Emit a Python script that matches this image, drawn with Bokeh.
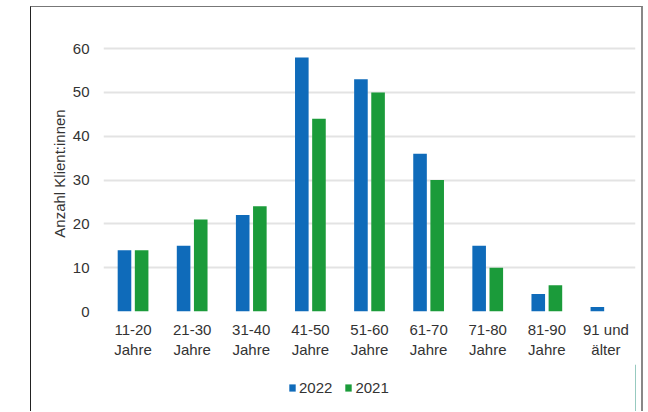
from bokeh.plotting import figure
from bokeh.layouts import column
from bokeh.models import ColumnDataSource, FactorRange, Range1d, Legend, LegendItem
from bokeh.transform import dodge
from bokeh.embed import file_html
from bokeh.resources import INLINE

categories = ["11-20\nJahre", "21-30\nJahre", "31-40\nJahre", "41-50\nJahre", "51-60\nJahre",
              "61-70\nJahre", "71-80\nJahre", "81-90\nJahre", "91 und\nälter"]
values_2022 = [14, 15, 22, 58, 53, 36, 15, 4, 1]
values_2021 = [14, 21, 24, 44, 50, 30, 10, 6, 0]
series_names = ["2022", "2021"]
yticks = [0, 10, 20, 30, 40, 50, 60]

BLUE = "#0F6BBA"
GREEN = "#1B9B3A"
FONT = "Liberation Sans"
FS = "15px"
TXT = "#333333"

source = ColumnDataSource(data=dict(cat=categories, v2022=values_2022, v2021=values_2021))

p = figure(x_range=FactorRange(*categories, range_padding=0.0), y_range=Range1d(0, 63),
           width=613, height=358, output_backend="svg", toolbar_location=None,
           min_border_left=72, min_border_right=9, min_border_top=28, min_border_bottom=54)
p.outline_line_color = None
p.background_fill_color = "white"
p.border_fill_color = "white"
p.styles = {"border-left": "1px solid #222", "border-top": "1px solid #777",
            "border-right": "2px solid #888"}

p.vbar(x=dodge("cat", -0.145, range=p.x_range), top="v2022", width=0.23, source=source,
       fill_color=BLUE, line_color=None)
p.vbar(x=dodge("cat", 0.145, range=p.x_range), top="v2021", width=0.23, source=source,
       fill_color=GREEN, line_color=None)

p.xgrid.grid_line_color = None
p.ygrid.grid_line_color = "#e3e3e3"
p.ygrid.grid_line_width = 2
p.yaxis.ticker = yticks

for ax in (p.xaxis[0], p.yaxis[0]):
    ax.axis_line_color = None
    ax.major_tick_line_color = None
    ax.minor_tick_line_color = None
    ax.major_tick_out = 0
    ax.major_tick_in = 0
    ax.major_label_text_font = FONT
    ax.major_label_text_font_size = FS
    ax.major_label_text_color = TXT

p.yaxis.major_label_standoff = 14
p.xaxis.major_label_standoff = 9
p.xaxis.major_label_text_line_height = 1.2
p.yaxis.axis_label = "Anzahl Klient:innen"
p.yaxis.axis_label_text_font = FONT
p.yaxis.axis_label_text_font_size = FS
p.yaxis.axis_label_text_font_style = "normal"
p.yaxis.axis_label_text_color = TXT
p.yaxis.axis_label_standoff = 2

# legend figure
pl = figure(width=613, height=47, output_backend="svg", toolbar_location=None,
            x_range=Range1d(0, 1), y_range=Range1d(0, 1),
            x_axis_location=None, y_axis_location=None,
            min_border_left=72, min_border_right=9, min_border_top=0, min_border_bottom=0)
pl.outline_line_color = None
pl.xgrid.grid_line_color = None
pl.ygrid.grid_line_color = None
pl.border_fill_color = "white"
pl.styles = {"border-left": "1px solid #222", "border-right": "2px solid #888"}
lr1 = pl.vbar(x=[5], top=[5], width=0.1, fill_color=BLUE, line_color=None)
lr2 = pl.vbar(x=[5], top=[5], width=0.1, fill_color=GREEN, line_color=None)

legend = Legend(items=[LegendItem(label=series_names[0], renderers=[lr1]),
                       LegendItem(label=series_names[1], renderers=[lr2])],
                orientation="horizontal", location=(185, 15),
                border_line_color=None, background_fill_alpha=0,
                padding=0, margin=0, spacing=12,
                glyph_width=8, glyph_height=9, label_standoff=3,
                label_text_font=FONT, label_text_font_size=FS,
                label_text_color=TXT)
pl.add_layout(legend, "center")

layout = column(p, pl, spacing=0)
layout.margin = (6, 0, 0, 30)

open("out.html", "w").write(file_html(layout, INLINE))
